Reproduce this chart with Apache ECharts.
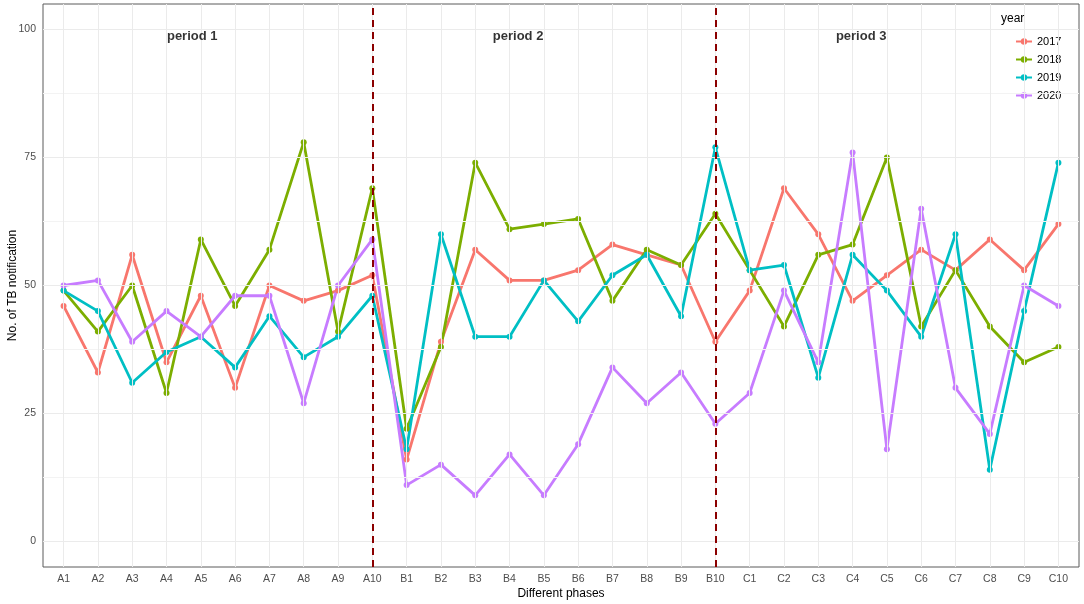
<!DOCTYPE html>
<html><head><meta charset="utf-8">
<script src="https://cdn.jsdelivr.net/npm/echarts@6/dist/echarts.min.js"></script>
<style>html,body{margin:0;padding:0;background:#fff}#c{width:1084px;height:604px}</style>
</head><body><div id="c"></div>
<script>
const categories = ['A1','A2','A3','A4','A5','A6','A7','A8','A9','A10',
  'B1','B2','B3','B4','B5','B6','B7','B8','B9','B10',
  'C1','C2','C3','C4','C5','C6','C7','C8','C9','C10'];
const years = ['2017','2018','2019','2020'];
const v2017 = [46,33,56,35,48,30,50,47,49,52, 16,39,57,51,51,53,58,56,54,39, 49,69,60,47,52,57,53,59,53,62];
const v2018 = [49,41,50,29,59,46,57,78,41,69, 22,38,74,61,62,63,47,57,54,64, 53,42,56,58,75,42,53,42,35,38];
const v2019 = [49,45,31,37,40,34,44,36,40,48, 18,60,40,40,51,43,52,56,44,77, 53,54,32,56,49,40,60,14,45,74];
const v2020 = [50,51,39,45,40,48,48,27,50,59, 11,15,9,17,9,19,34,27,33,23, 29,49,35,76,18,65,30,21,50,46];
const yTicks = [0,25,50,75,100];
const yMinor = [12.5,37.5,62.5,87.5];
const periodNames = ['period 1','period 2','period 3'];
const periodX = [3.75, 13.25, 23.25];
const periodY = [98.7, 98.7, 98.7];
const breakCats = ['A10','B10'];
const colors = ['#F8766D','#7CAE00','#00BFC4','#C77CFF'];

const values = [v2017, v2018, v2019, v2020];
const idx = categories.map((c, i) => i);
const font = '"Liberation Sans", Arial, sans-serif';

const chart = echarts.init(document.getElementById('c'));

const gridLines = {
  type: 'line', data: [], silent: true, z: 1, name: '_grid',
  markLine: {
    silent: true, symbol: 'none', animation: false, label: { show: false },
    data: [
      ...yMinor.map(v => ({ yAxis: v, lineStyle: { color: '#F3F3F3', width: 1, type: 'solid' } })),
      ...idx.map(i => ({ xAxis: i, lineStyle: { color: '#EBEBEB', width: 1, type: 'solid' } })),
      ...yTicks.map(v => ({ yAxis: v, lineStyle: { color: '#EBEBEB', width: 1, type: 'solid' } }))
    ]
  }
};

const yearSeries = years.map((y, k) => ({
  name: y, type: 'line', z: 3,
  data: values[k].map((v, i) => [i, v]),
  symbol: 'circle', symbolSize: 6, showSymbol: true,
  lineStyle: { color: colors[k], width: 2.8 },
  itemStyle: { color: colors[k], borderWidth: 0, borderColor: colors[k], opacity: 1 },
  emphasis: { disabled: true }
}));

const breaks = {
  type: 'line', data: [], silent: true, z: 10, name: '_breaks',
  markLine: {
    silent: true, symbol: 'none', animation: false, label: { show: false },
    data: breakCats.map(c => ({ xAxis: categories.indexOf(c),
      lineStyle: { color: '#8B0000', width: 2, type: [7, 5] } }))
  }
};

const periods = {
  type: 'scatter', name: '_periods', z: 11, silent: true,
  symbolSize: 0,
  data: periodNames.map((n, i) => ({ name: n, value: [periodX[i], periodY[i]] })),
  label: { show: true, position: 'inside', formatter: p => p.name,
    fontFamily: font, fontWeight: 'bold', fontSize: 13, color: '#000' }
};

chart.setOption({
  animation: false,
  color: colors,
  textStyle: { fontFamily: font },
  grid: { left: 43, right: 5, top: 4, bottom: 37, outerBoundsMode: 'none', containLabel: false,
    show: true, borderColor: '#5a5a5a', borderWidth: 1, backgroundColor: '#fff' },
  title: { text: 'year', left: 1001, top: 13, padding: 0,
    textStyle: { fontFamily: font, fontSize: 12, fontWeight: 'normal', color: '#000' } },
  legend: {
    data: years, orient: 'vertical', left: 1006, top: 12,
    padding: [24, 8, 6, 9], itemGap: 7, itemWidth: 16, itemHeight: 8,
    backgroundColor: '#fff',
    itemStyle: { borderWidth: 0 },
    textStyle: { fontFamily: font, fontSize: 11, color: '#000' },
    selectedMode: false
  },
  xAxis: {
    type: 'value', min: -0.6, max: 29.6,
    axisLine: { show: false },
    axisTick: { show: true, customValues: idx, length: 4, lineStyle: { color: '#333' } },
    axisLabel: { customValues: idx, formatter: v => categories[Math.round(v)],
      fontFamily: font, fontSize: 10.5, color: '#4D4D4D', margin: 7 },
    splitLine: { show: false },
    name: 'Different phases', nameLocation: 'middle', nameGap: 21, nameMoveOverlap: false,
    nameTextStyle: { fontFamily: font, fontSize: 12, color: '#000' }
  },
  yAxis: {
    type: 'value', min: -5, max: 105,
    axisLine: { show: false },
    axisTick: { show: true, customValues: yTicks, length: 4, lineStyle: { color: '#333' } },
    axisLabel: { customValues: yTicks, fontFamily: font, fontSize: 10.5, color: '#4D4D4D', margin: 7 },
    splitLine: { show: false },
    name: 'No. of TB notification', nameLocation: 'middle', nameGap: 24, nameRotate: 90,
    nameMoveOverlap: false,
    nameTextStyle: { fontFamily: font, fontSize: 12, color: '#000' }
  },
  series: [gridLines, ...yearSeries, breaks, periods]
});
</script></body></html>
